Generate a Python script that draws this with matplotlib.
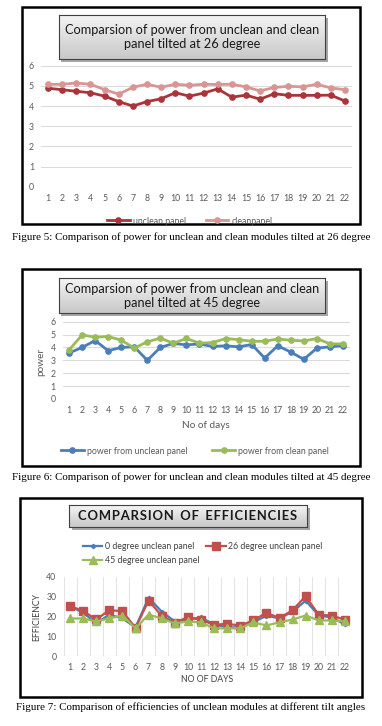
import numpy as np
import matplotlib
matplotlib.use('Agg')
import matplotlib.pyplot as plt
from matplotlib.patches import Rectangle

W, H = 382, 726

days = list(range(1, 23))

# figure 5 : power, 26 degree tilt
unclean_26 = [4.88, 4.81, 4.73, 4.66, 4.49, 4.22, 4.00, 4.22, 4.36, 4.66, 4.49,
              4.64, 4.85, 4.44, 4.54, 4.34, 4.61, 4.53, 4.53, 4.53, 4.54, 4.25]
clean_26 = [5.07, 5.08, 5.14, 5.08, 4.81, 4.59, 4.93, 5.08, 4.93, 5.08, 5.03,
            5.08, 5.07, 5.08, 4.95, 4.75, 4.92, 4.98, 4.95, 5.08, 4.90, 4.81]

# figure 6 : power, 45 degree tilt
unclean_45 = [3.57, 4.00, 4.54, 3.75, 4.00, 4.05, 3.00, 4.00, 4.31, 4.20, 4.27,
              4.08, 4.13, 4.05, 4.23, 3.18, 4.13, 3.64, 3.08, 3.95, 4.05, 4.15]
clean_45 = [3.80, 4.97, 4.80, 4.85, 4.57, 3.95, 4.44, 4.72, 4.33, 4.70, 4.33,
            4.38, 4.69, 4.61, 4.48, 4.48, 4.66, 4.56, 4.51, 4.69, 4.28, 4.28]

# figure 7 : efficiencies
eff_0 = [25.0, 22.0, 16.5, 21.0, 19.0, 14.5, 29.5, 22.5, 17.5, 18.5, 19.5,
         16.0, 14.5, 14.5, 17.0, 20.5, 19.0, 22.5, 28.0, 20.5, 19.5, 16.0]
eff_26 = [25.4, 22.7, 18.5, 23.2, 22.7, 14.2, 28.1, 20.3, 16.8, 19.7, 18.3,
          15.8, 16.3, 15.4, 18.0, 21.9, 19.2, 23.2, 30.3, 20.8, 20.5, 18.3]
eff_45 = [19.0, 19.0, 17.5, 19.0, 20.5, 14.0, 21.0, 19.0, 16.5, 17.5, 17.0,
          14.0, 14.0, 14.0, 17.0, 15.5, 17.0, 18.5, 20.5, 18.0, 18.0, 17.5]

captions = [
    'Figure 5: Comparison of power for unclean and clean modules tilted at 26 degree',
    'Figure 6: Comparison of power for unclean and clean modules tilted at 45 degree',
    'Figure 7: Comparison of efficiencies of unclean modules at different tilt angles',
]

xl_font = 'Lato'
serif = 'Liberation Serif'
grey_txt = '#595959'


def rect(l, t, r, b):
    return [l / W, 1 - b / H, (r - l) / W, (b - t) / H]


def fx(x):
    return x / W


def fy(y):
    return 1 - y / H


fig = plt.figure(figsize=(W / 100, H / 100), dpi=100)


def frame(l, t, r, b):
    fig.patches.append(Rectangle((fx(l), fy(b)), (r - l) / W, (b - t) / H,
                                 transform=fig.transFigure, fill=False,
                                 edgecolor='black', linewidth=1.8, zorder=-2))


def title_box(l, t, r, b, text, size, bold=False):
    # shadow behind the box
    sax = fig.add_axes(rect(l + 2.5, t + 2.5, r + 2.5, b + 2.5))
    sax.set_facecolor('#a6a6a6')
    sax.set_xticks([])
    sax.set_yticks([])
    for s in sax.spines.values():
        s.set_visible(False)
    sax.set_zorder(4)
    tax = fig.add_axes(rect(l, t, r, b))
    tax.set_zorder(5)
    grad = np.linspace(0, 1, 50).reshape(-1, 1)
    tax.imshow(grad, cmap=matplotlib.colors.LinearSegmentedColormap.from_list(
        'g', ['#f4f4f4', '#c8c8c8']), aspect='auto', extent=[0, 1, 0, 1])
    tax.set_xticks([])
    tax.set_yticks([])
    for s in tax.spines.values():
        s.set_color('#404040')
        s.set_linewidth(0.8)
    tax.text(0.5, 0.5, text, ha='center', va='center', fontsize=size,
             family=[xl_font, 'DejaVu Sans'], fontweight='bold' if bold else 'normal',
             linespacing=1.2, transform=tax.transAxes, color='#1a1a1a')


def style_axes(ax, ymax, ystep, hgrid=True):
    ax.set_xlim(0.5, 22.5)
    ax.set_ylim(0, ymax)
    ax.set_xticks(days)
    ax.set_yticks(np.arange(0, ymax + 0.1, ystep))
    ax.patch.set_alpha(0)
    for s in ax.spines.values():
        s.set_visible(False)
    ax.tick_params(length=0, labelsize=6.3, colors=grey_txt, pad=5)
    for lab in ax.get_xticklabels() + ax.get_yticklabels():
        lab.set_family(xl_font)
    if hgrid:
        ax.yaxis.grid(True, color='#d9d9d9', linewidth=0.7)
        ax.set_axisbelow(True)


# ---------------- figure 5 ----------------
frame(22, 7, 360, 224)
title_box(59, 15, 325, 59, 'Comparsion of power from unclean and clean\npanel tilted at 26 degree', 9.2)
ax1 = fig.add_axes(rect(41, 65.7, 352, 186.7))
ax1.plot(days, unclean_26, color='#a9353a', marker='o', markersize=3.8, linewidth=2.0,
         label='unclean panel')
ax1.plot(days, clean_26, color='#d99594', marker='o', markersize=3.8, linewidth=2.0,
         label='cleanpanel')
style_axes(ax1, 6, 1)
leg = ax1.legend(loc='center', bbox_to_anchor=(fx(190), fy(221)), bbox_transform=fig.transFigure,
                 ncol=2, frameon=False, handlelength=2.6, columnspacing=2.2,
                 handletextpad=0.4, prop={'family': xl_font, 'size': 6.3})
for t in leg.get_texts():
    t.set_color(grey_txt)
fig.text(fx(191), fy(237), captions[0], ha='center', va='center', family=serif, fontsize=7.9)

# ---------------- figure 6 ----------------
frame(22, 269, 360, 466)
title_box(59, 278, 325, 313, 'Comparsion of power from unclean and clean\npanel tilted at 45 degree', 9.2)
ax2 = fig.add_axes(rect(62.5, 321.7, 349.5, 399))
ax2.plot(days, unclean_45, color='#4a7ebb', marker='o', markersize=3.8, linewidth=2.0,
         label='power from unclean panel')
ax2.plot(days, clean_45, color='#9bbb59', marker='o', markersize=3.8, linewidth=2.0,
         label='power from clean panel')
style_axes(ax2, 6, 1)
fig.text(fx(41), fy(362), 'power', rotation=90, ha='center', va='center',
         family=xl_font, fontsize=7.2, color=grey_txt)
fig.text(fx(206), fy(425), 'No of days', ha='center', va='center',
         family=xl_font, fontsize=7.2, color=grey_txt)
leg = ax2.legend(loc='center', bbox_to_anchor=(fx(195), fy(451)), bbox_transform=fig.transFigure,
                 ncol=2, frameon=False, handlelength=2.6, columnspacing=2.8,
                 handletextpad=0.4, prop={'family': xl_font, 'size': 6.3})
for t in leg.get_texts():
    t.set_color(grey_txt)
fig.text(fx(191), fy(477), captions[1], ha='center', va='center', family=serif, fontsize=7.9)

# ---------------- figure 7 ----------------
frame(20, 498, 362, 697)
eff_title = '\u200a'.join('COMPARSION') + '\u2002' + '\u200a'.join('OF') + \
    '\u2002' + '\u200a'.join('EFFICIENCIES')
title_box(69, 505, 307, 527, eff_title, 9.4, bold=True)
ax3 = fig.add_axes(rect(63.5, 577, 351.5, 656))
l0, = ax3.plot(days, eff_0, color='#4a7ebb', marker='D', markersize=2.2, linewidth=1.6,
               label='0 degree unclean panel')
l26, = ax3.plot(days, eff_26, color='#c0504d', marker='s', markersize=5.5, linewidth=1.6,
                label='26 degree unclean panel')
l45, = ax3.plot(days, eff_45, color='#9bbb59', marker='^', markersize=5.5, linewidth=1.6,
                label='45 degree unclean panel')
style_axes(ax3, 40, 10, hgrid=False)
for xb in np.arange(0.5, 23, 1):
    ax3.axvline(xb, color='#e3e3e3', linewidth=0.7, zorder=0)
ax3.axhline(0, color='#d9d9d9', linewidth=0.8, zorder=0)
fig.text(fx(37), fy(617), 'EFFICIENCY', rotation=90, ha='center', va='center',
         family=xl_font, fontsize=6.3, color='#404040')
fig.text(fx(207), fy(680), 'NO OF DAYS', ha='center', va='center',
         family=xl_font, fontsize=6.3, color='#404040')
leg = ax3.legend([l0, l45, l26], [l0.get_label(), l45.get_label(), l26.get_label()],
                 loc='upper left', bbox_to_anchor=(fx(75), fy(534)), bbox_transform=fig.transFigure,
                 ncol=2, frameon=False, handlelength=2.2, columnspacing=0.8,
                 handletextpad=0.3, labelspacing=0.6, prop={'family': xl_font, 'size': 6.3})
for t in leg.get_texts():
    t.set_color('#404040')
fig.text(fx(191), fy(707), captions[2], ha='center', va='center', family=serif, fontsize=7.9)

fig.savefig('out.png', dpi=100)
